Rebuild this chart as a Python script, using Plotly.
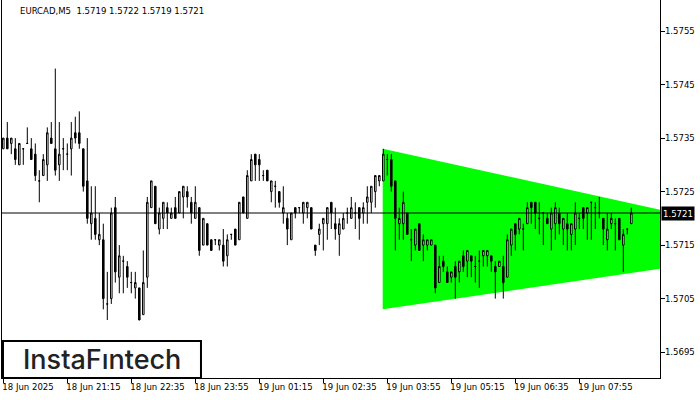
import plotly.graph_objects as go

symbol_title = "EURCAD,M5  1.5719 1.5722 1.5719 1.5721"
last_price = 1.5721

opens = [1.5733,1.5735,1.5734,1.5733,1.5730,1.5733,1.5734,1.5733,1.5732,1.5727,
         1.5728,1.5730,1.5735,1.5733,1.5730,1.5733,1.5732,1.5733,1.5736,1.5736,
         1.5733,1.5727,1.5719,1.5720,1.5716,1.5716,1.5704,1.5705,1.5722,1.5709,
         1.5712,1.5711,1.5708,1.5707,1.5707,1.5702,1.5709,1.5722,1.5726,1.5718,
         1.5720,1.5722,1.5720,1.5722,1.5721,1.5724,1.5725,1.5723,1.5720,1.5722,
         1.5715,1.5719,1.5716,1.5716,1.5715,1.5715,1.5713,1.5717,1.5718,1.5716,
         1.5724,1.5720,1.5727,1.5732,1.5731,1.5728,1.5729,1.5725,1.5726,1.5725,
         1.5721,1.5720,1.5716,1.5722,1.5722,1.5721,1.5722,1.5722,1.5715,1.5717,
         1.5719,1.5719,1.5723,1.5719,1.5717,1.5718,1.5721,1.5720,1.5721,1.5722,
         1.5721,1.5723,1.5723,1.5725,1.5727,1.5727,1.5731,1.5731,1.5727,1.5719,
         1.5719,1.5721,1.5716,1.5715,1.5719,1.5715,1.5715,1.5715,1.5715,1.5708,
         1.5712,1.5710,1.5709,1.5711,1.5710,1.5713,1.5712,1.5713,1.5711,1.5712,
         1.5713,1.5713,1.5713,1.5711,1.5711,1.5711,1.5709,1.5715,1.5719,1.5718,
         1.5718,1.5719,1.5723,1.5723,1.5720,1.5721,1.5720,1.5718,1.5719,1.5721,
         1.5718,1.5719,1.5717,1.5718,1.5720,1.5722,1.5721,1.5723,1.5722,1.5721,
         1.5720,1.5716,1.5719,1.5719,1.5720,1.5715,1.5718,1.5719]
highs = [1.5735,1.5738,1.5735,1.5735,1.5734,1.5733,1.5737,1.5735,1.5734,1.5729,
         1.5732,1.5737,1.5738,1.5748,1.5738,1.5735,1.5734,1.5738,1.5739,1.5740,
         1.5733,1.5735,1.5726,1.5726,1.5721,1.5719,1.5710,1.5722,1.5724,1.5715,
         1.5713,1.5712,1.5710,1.5710,1.5707,1.5714,1.5724,1.5727,1.5726,1.5722,
         1.5723,1.5723,1.5722,1.5724,1.5725,1.5726,1.5726,1.5724,1.5726,1.5722,
         1.5720,1.5719,1.5716,1.5716,1.5716,1.5718,1.5717,1.5717,1.5718,1.5723,
         1.5724,1.5729,1.5732,1.5732,1.5732,1.5729,1.5729,1.5727,1.5727,1.5725,
         1.5726,1.5721,1.5721,1.5722,1.5722,1.5723,1.5723,1.5722,1.5715,1.5719,
         1.5720,1.5722,1.5723,1.5722,1.5720,1.5721,1.5722,1.5724,1.5723,1.5722,
         1.5723,1.5726,1.5726,1.5728,1.5728,1.5733,1.5732,1.5732,1.5727,1.5722,
         1.5725,1.5721,1.5718,1.5718,1.5719,1.5717,1.5716,1.5716,1.5715,1.5713,
         1.5713,1.5711,1.5710,1.5712,1.5712,1.5714,1.5714,1.5713,1.5713,1.5714,
         1.5714,1.5714,1.5713,1.5712,1.5712,1.5713,1.5717,1.5718,1.5719,1.5720,
         1.5719,1.5723,1.5723,1.5723,1.5723,1.5721,1.5721,1.5722,1.5723,1.5722,
         1.5720,1.5721,1.5719,1.5723,1.5721,1.5722,1.5722,1.5723,1.5723,1.5724,
         1.5720,1.5721,1.5721,1.5720,1.5720,1.5718,1.5718,1.5722]
lows = [1.5733,1.5733,1.5732,1.5730,1.5730,1.5730,1.5734,1.5731,1.5727,1.5723,
        1.5728,1.5727,1.5734,1.5728,1.5727,1.5729,1.5729,1.5728,1.5734,1.5733,
        1.5725,1.5719,1.5716,1.5716,1.5715,1.5703,1.5701,1.5704,1.5708,1.5706,
        1.5706,1.5707,1.5706,1.5705,1.5701,1.5702,1.5707,1.5722,1.5719,1.5717,
        1.5718,1.5718,1.5720,1.5720,1.5721,1.5720,1.5722,1.5719,1.5720,1.5713,
        1.5715,1.5715,1.5714,1.5715,1.5714,1.5711,1.5711,1.5716,1.5715,1.5716,
        1.5721,1.5720,1.5727,1.5727,1.5727,1.5727,1.5727,1.5723,1.5722,1.5722,
        1.5719,1.5715,1.5716,1.5720,1.5721,1.5719,1.5720,1.5718,1.5713,1.5715,
        1.5714,1.5716,1.5718,1.5716,1.5713,1.5718,1.5719,1.5720,1.5718,1.5716,
        1.5719,1.5719,1.5721,1.5722,1.5726,1.5727,1.5728,1.5725,1.5714,1.5716,
        1.5716,1.5717,1.5712,1.5714,1.5714,1.5712,1.5714,1.5715,1.5706,1.5708,
        1.5710,1.5708,1.5708,1.5705,1.5708,1.5710,1.5709,1.5709,1.5708,1.5707,
        1.5711,1.5711,1.5710,1.5705,1.5711,1.5705,1.5709,1.5713,1.5714,1.5717,
        1.5714,1.5719,1.5719,1.5718,1.5717,1.5715,1.5719,1.5714,1.5716,1.5717,
        1.5715,1.5714,1.5714,1.5715,1.5718,1.5718,1.5716,1.5716,1.5718,1.5720,
        1.5715,1.5714,1.5718,1.5714,1.5716,1.5710,1.5717,1.5719]
closes = [1.5735,1.5733,1.5735,1.5731,1.5734,1.5733,1.5734,1.5731,1.5728,1.5727,
          1.5731,1.5736,1.5734,1.5729,1.5732,1.5733,1.5732,1.5735,1.5735,1.5734,
          1.5726,1.5720,1.5721,1.5717,1.5717,1.5705,1.5704,1.5721,1.5710,1.5713,
          1.5712,1.5709,1.5708,1.5708,1.5701,1.5708,1.5723,1.5727,1.5719,1.5721,
          1.5723,1.5721,1.5721,1.5720,1.5725,1.5726,1.5724,1.5721,1.5723,1.5714,
          1.5720,1.5715,1.5714,1.5716,1.5716,1.5712,1.5716,1.5717,1.5715,1.5723,
          1.5721,1.5728,1.5731,1.5730,1.5730,1.5728,1.5727,1.5727,1.5726,1.5723,
          1.5722,1.5718,1.5721,1.5721,1.5722,1.5723,1.5723,1.5718,1.5714,1.5718,
          1.5720,1.5722,1.5721,1.5718,1.5719,1.5720,1.5721,1.5722,1.5721,1.5720,
          1.5722,1.5724,1.5726,1.5728,1.5728,1.5732,1.5731,1.5726,1.5720,1.5720,
          1.5723,1.5717,1.5716,1.5718,1.5714,1.5716,1.5716,1.5716,1.5707,1.5711,
          1.5711,1.5708,1.5710,1.5709,1.5712,1.5711,1.5714,1.5712,1.5711,1.5712,
          1.5714,1.5714,1.5712,1.5710,1.5712,1.5708,1.5716,1.5718,1.5717,1.5720,
          1.5718,1.5722,1.5722,1.5721,1.5720,1.5721,1.5719,1.5721,1.5722,1.5719,
          1.5720,1.5718,1.5719,1.5721,1.5720,1.5720,1.5722,1.5723,1.5722,1.5721,
          1.5718,1.5718,1.5720,1.5719,1.5716,1.5717,1.5718,1.5721]

bar_index = list(range(len(opens)))

# x-axis labels (every 16 bars of 5 minutes)
tick_bars = [0, 16, 32, 48, 64, 80, 96, 112, 128, 144]
tick_labels = ["18 Jun 2025", "18 Jun 21:15", "18 Jun 22:35", "18 Jun 23:55",
               "19 Jun 01:15", "19 Jun 02:35", "19 Jun 03:55", "19 Jun 05:15",
               "19 Jun 06:35", "19 Jun 07:55"]
price_ticks = [1.5695, 1.5705, 1.5715, 1.5725, 1.5735, 1.5745, 1.5755]

# Bullish symmetrical triangle pattern (bar index, price)
tri_bars = [94.85, 204.3, 94.85]
tri_prices = [1.5733, 1.5715, 1.5703]

x_range = [-0.325, 164.175]
y_range = [1.5690159, 1.5760813]

FONT = "DejaVu Sans Condensed, DejaVu Sans, sans-serif"

fig = go.Figure()
fig.add_trace(go.Candlestick(
    x=bar_index, open=opens, high=highs, low=lows, close=closes,
    increasing=dict(fillcolor="#FFFFFF", line=dict(color="#000000", width=1)),
    decreasing=dict(fillcolor="#000000", line=dict(color="#000000", width=1)),
    whiskerwidth=0, showlegend=False, hoverinfo="skip"))

# triangle pattern drawn beneath the candles
tri_path = "M " + " L ".join(f"{b},{p}" for b, p in zip(tri_bars, tri_prices)) + " Z"
fig.add_shape(type="path", xref="x", yref="y", path=tri_path,
              fillcolor="#00FF00", line=dict(width=0), layer="below")

fig.add_shape(type="line", xref="paper", x0=0, x1=1, yref="y",
              y0=last_price, y1=last_price, line=dict(color="#000000", width=1),
              layer="above")

# logo box
fig.add_shape(type="rect", xref="paper", yref="paper",
              x0=0.0015, x1=0.3024, y0=0.0, y1=0.098,
              fillcolor="#FFFFFF", line=dict(color="#000000", width=2), layer="above")
fig.add_annotation(text="InstaFıntech", xref="paper", yref="paper",
                   x=0.152, y=0.049, xanchor="center", yanchor="middle",
                   showarrow=False,
                   font=dict(family="Inter, Lato, sans-serif", size=27, color="#222222", weight=500))

fig.add_annotation(text=symbol_title, xref="paper", yref="paper",
                   x=0.0243, y=0.971, xanchor="left", yanchor="middle",
                   showarrow=False, font=dict(family=FONT, size=9.5, color="#000000"))

fig.add_annotation(text=f"{last_price:.4f}", xref="paper", yref="y",
                   x=1, y=last_price, xanchor="left", yanchor="middle", xshift=1,
                   showarrow=False, bgcolor="#000000", borderpad=1,
                   font=dict(family=FONT, size=9.5, color="#FFFFFF"))

fig.update_layout(
    width=700, height=400,
    margin=dict(l=2, r=40, t=0, b=22, autoexpand=False),
    paper_bgcolor="#FFFFFF", plot_bgcolor="#FFFFFF",
    showlegend=False, boxgap=0.45,
    font=dict(family=FONT, size=9.5, color="#000000"),
    xaxis=dict(range=x_range, rangeslider=dict(visible=False), showgrid=False,
               zeroline=False, showline=True, linecolor="#000000", linewidth=1,
               ticks="outside", ticklen=4, tickcolor="#000000",
               tickvals=tick_bars, ticktext=tick_labels, automargin=False,
               ticklabelposition="outside right", ticklabelshift=-2,
               ticklabeloverflow="allow", fixedrange=True),
    yaxis=dict(range=y_range, side="right", showgrid=False, zeroline=False,
               showline=True, mirror=True, linecolor="#000000", linewidth=1,
               ticks="outside", ticklen=4, tickcolor="#000000", automargin=False,
               tickvals=price_ticks, tickformat=".4f", ticklabelstandoff=-2,
               fixedrange=True),
)

fig.write_html("out.html", config={"displayModeBar": False},
               post_script="document.body.style.margin='0';document.body.style.overflow='hidden';")
